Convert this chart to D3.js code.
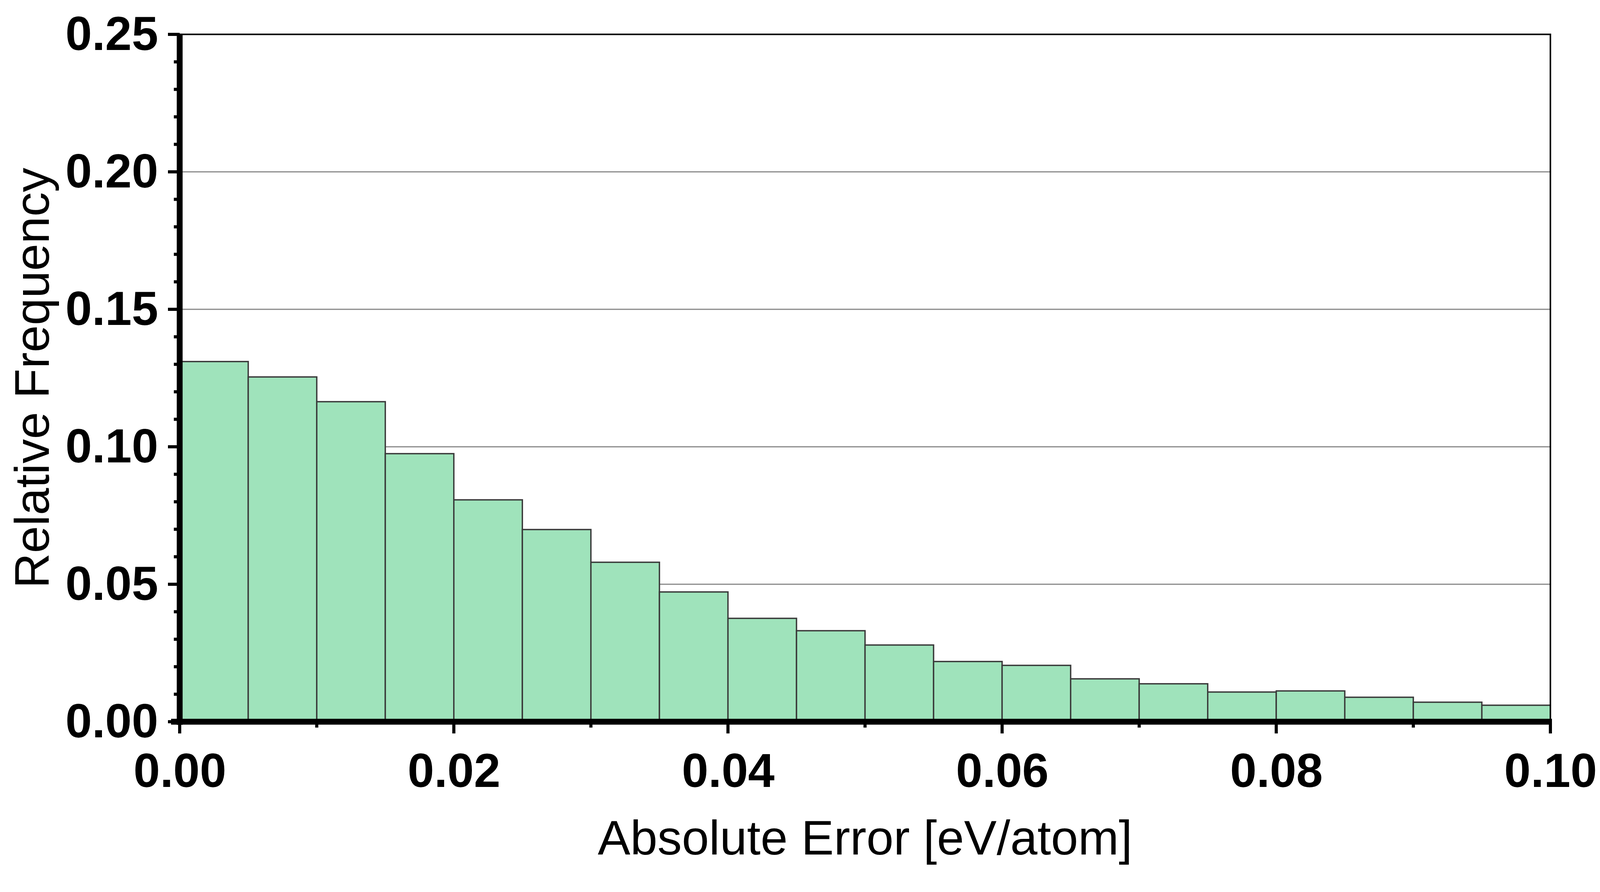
<!DOCTYPE html><html><head><meta charset="utf-8"><script src="https://cdn.jsdelivr.net/npm/d3@7"></script>
<style>body{margin:0;background:#fff}</style></head><body><svg id="c" width="4198" height="2284"></svg><script>
const binStarts=[0,0.005,0.01,0.015,0.02,0.025,0.03,0.035,0.04,0.045,0.05,0.055,0.06,0.065,0.07,0.075,0.08,0.085,0.09,0.095];
const freqs=[0.131,0.1254,0.1164,0.0975,0.0807,0.0699,0.058,0.0472,0.0376,0.0331,0.0279,0.0219,0.0205,0.0156,0.0138,0.0108,0.0112,0.0089,0.0071,0.006];
const binWidth=0.005;
const xTicks=[0,0.02,0.04,0.06,0.08,0.1];
const yTicks=[0,0.05,0.1,0.15,0.2,0.25];
const L=460,R=3969,T=88,B=1848;
const svg=d3.select("#c");
const x=d3.scaleLinear().domain([0,0.1]).range([L,R]);
const y=d3.scaleLinear().domain([0,0.25]).range([B,T]);
const font="Liberation Sans, Arial, sans-serif";
svg.append("g").selectAll("line").data(yTicks.slice(1,-1)).join("line")
 .attr("x1",L).attr("x2",R).attr("y1",d=>y(d)).attr("y2",d=>y(d)).attr("stroke","#888").attr("stroke-width",3);
svg.append("g").selectAll("rect").data(freqs).join("rect")
 .attr("x",(d,i)=>x(binStarts[i])).attr("width",(d,i)=>x(binStarts[i]+binWidth)-x(binStarts[i]))
 .attr("y",d=>y(d)).attr("height",d=>B-y(d)).attr("fill","#9fe3bb").attr("stroke","#3a3a3a").attr("stroke-width",3.5);
svg.append("rect").attr("x",L).attr("y",T).attr("width",R-L).attr("height",B-T).attr("fill","none").attr("stroke","#000").attr("stroke-width",4);
const xa=svg.append("g").attr("transform",`translate(0,${B})`)
 .call(d3.axisBottom(x).tickValues(xTicks).tickFormat(d3.format(".2f")).tickSize(0).tickPadding(75));
const ya=svg.append("g").attr("transform",`translate(${L},0)`)
 .call(d3.axisLeft(y).tickValues(yTicks).tickFormat(d3.format(".2f")).tickSize(0).tickPadding(55));
[xa,ya].forEach(a=>{a.select(".domain").remove();a.selectAll("text").attr("font-family",font).attr("font-weight","bold").attr("font-size",122).attr("fill","#000");});
xa.selectAll("text").attr("dy","0.75em");
const xMinor=d3.range(0,0.1001,0.01), yMinor=d3.range(0,0.2501,0.01);
svg.append("g").selectAll("line").data(xMinor).join("line")
 .attr("x1",d=>x(d)).attr("x2",d=>x(d)).attr("y1",B).attr("y2",d=>B+(xTicks.some(t=>Math.abs(t-d)<1e-9)?30:15)).attr("stroke","#000").attr("stroke-width",8);
svg.append("g").selectAll("line").data(yMinor).join("line")
 .attr("y1",d=>y(d)).attr("y2",d=>y(d)).attr("x1",L).attr("x2",d=>L-(yTicks.some(t=>Math.abs(t-d)<1e-9)?30:15)).attr("stroke","#000").attr("stroke-width",8);
svg.append("line").attr("x1",L).attr("x2",L).attr("y1",T).attr("y2",B+8).attr("stroke","#000").attr("stroke-width",15);
svg.append("line").attr("x1",L-22).attr("x2",R+4).attr("y1",B).attr("y2",B).attr("stroke","#000").attr("stroke-width",15);
svg.append("text").attr("x",(L+R)/2).attr("y",2188).attr("text-anchor","middle").attr("font-family",font).attr("font-size",125).text("Absolute Error [eV/atom]");
svg.append("text").attr("transform",`translate(125,968) rotate(-90)`).attr("text-anchor","middle").attr("font-family",font).attr("font-size",125).text("Relative Frequency");
</script></body></html>
